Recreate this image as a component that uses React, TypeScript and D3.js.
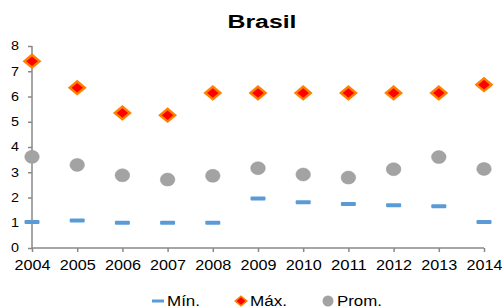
import * as d3 from 'd3';
import React, { useRef, useEffect } from 'react';

const years = ['2004', '2005', '2006', '2007', '2008', '2009', '2010', '2011', '2012', '2013', '2014'];
const minValues = [1.03, 1.09, 1.0, 1.0, 1.0, 1.96, 1.81, 1.74, 1.69, 1.65, 1.03];
const maxValues = [7.4, 6.35, 5.35, 5.26, 6.14, 6.14, 6.14, 6.14, 6.14, 6.14, 6.47];
const avgValues = [3.61, 3.29, 2.88, 2.71, 2.86, 3.16, 2.91, 2.79, 3.12, 3.6, 3.13];
const yTicks = [0, 1, 2, 3, 4, 5, 6, 7, 8];
const legendLabels = ['Mín.', 'Máx.', 'Prom.'];

const App: React.FC = () => {
    const ref = useRef<SVGSVGElement | null>(null);

    useEffect(() => {
        const width = 502;
        const height = 307;
        const margin = { top: 46, right: 18, bottom: 59, left: 32 };
        const font = 'Liberation Sans, Arial, sans-serif';
        const axisColor = '#888888';

        const svg = d3.select(ref.current).attr('width', width).attr('height', height);
        svg.selectAll('*').remove();

        const x = d3
            .scalePoint<string>()
            .domain(years)
            .range([margin.left, width - margin.right]);
        const y = d3
            .scaleLinear()
            .domain([0, 8])
            .range([height - margin.bottom, margin.top]);

        // Title (the reference is stretched horizontally, so text gets a fixed length)
        svg.append('text')
            .attr('x', 262)
            .attr('y', 28)
            .attr('text-anchor', 'middle')
            .attr('textLength', 69)
            .attr('lengthAdjust', 'spacingAndGlyphs')
            .style('font-family', font)
            .style('font-size', '18px')
            .style('font-weight', 'bold')
            .text('Brasil');

        // Y axis
        const yAxis = svg
            .append('g')
            .attr('transform', `translate(${margin.left},0)`)
            .call(d3.axisLeft(y).tickValues(yTicks).tickSize(4).tickPadding(13));
        // X axis
        const xAxis = svg
            .append('g')
            .attr('transform', `translate(0,${y(0)})`)
            .call(d3.axisBottom(x).tickSize(4).tickPadding(8));

        [yAxis, xAxis].forEach((ax) => {
            ax.select('.domain').attr('stroke', axisColor).attr('stroke-width', 1.5);
            ax.selectAll('.tick line').attr('stroke', axisColor).attr('stroke-width', 1.5);
            ax.selectAll('.tick text')
                .attr('fill', '#000')
                .style('font-family', font)
                .attr('lengthAdjust', 'spacingAndGlyphs');
        });
        yAxis.select('.domain').attr('d', `M0,${y(0)}V${y(8)}`);
        xAxis.select('.domain').attr('d', `M${margin.left},0H${width - margin.right}`);
        xAxis.selectAll('.tick text').style('font-size', '14px').attr('textLength', 36);
        yAxis.selectAll('.tick text')
            .style('font-size', '12px')
            .attr('textLength', 8)
            .attr('text-anchor', 'middle');

        // Prom. circles (slightly wider than tall, like the reference)
        svg.append('g')
            .selectAll('ellipse')
            .data(avgValues)
            .join('ellipse')
            .attr('cx', (_, i) => x(years[i])!)
            .attr('cy', (d) => y(d))
            .attr('rx', 7.3)
            .attr('ry', 6.5)
            .attr('fill', '#a3a3a3')
            .attr('stroke', '#999')
            .attr('stroke-width', 0.5);

        // Mín. dashes
        svg.append('g')
            .selectAll('rect')
            .data(minValues)
            .join('rect')
            .attr('x', (_, i) => x(years[i])! - 7.5)
            .attr('y', (d) => y(d) - 2)
            .attr('width', 15)
            .attr('height', 4)
            .attr('rx', 1)
            .attr('fill', '#5b9bd5');

        // Máx. diamonds
        const diamond = d3.symbol().type(d3.symbolSquare).size(80);
        svg.append('g')
            .selectAll('path')
            .data(maxValues)
            .join('path')
            .attr('d', diamond)
            .attr(
                'transform',
                (d, i) => `translate(${x(years[i])},${y(d)}) scale(1.2,1) rotate(45)`
            )
            .attr('fill', '#ff0000')
            .attr('stroke', '#ff8000')
            .attr('stroke-width', 2.2);

        // Legend
        const legendY = 301;
        const legend = svg.append('g');
        legend.append('rect')
            .attr('x', 152)
            .attr('y', legendY - 1.5)
            .attr('width', 12)
            .attr('height', 3)
            .attr('fill', '#5b9bd5');
        legend.append('path')
            .attr('d', d3.symbol().type(d3.symbolSquare).size(45))
            .attr('transform', `translate(241,${legendY}) scale(1.2,1) rotate(45)`)
            .attr('fill', '#ff0000')
            .attr('stroke', '#ff8000')
            .attr('stroke-width', 1.5);
        legend.append('circle')
            .attr('cx', 328)
            .attr('cy', legendY)
            .attr('r', 5.5)
            .attr('fill', '#a3a3a3');
        const legendX = [167, 250, 337];
        const legendW = [33, 37, 45];
        legendLabels.forEach((label, i) => {
            legend.append('text')
                .attr('x', legendX[i])
                .attr('y', legendY + 4.5)
                .attr('textLength', legendW[i])
                .attr('lengthAdjust', 'spacingAndGlyphs')
                .style('font-family', font)
                .style('font-size', '14px')
                .text(label);
        });
    }, []);

    return (
        <div
            style={{
                position: 'fixed',
                left: 0,
                top: 0,
                width: 502,
                height: 307,
                overflow: 'hidden',
                background: '#fff',
            }}
        >
            <svg ref={ref} style={{ display: 'block' }}></svg>
        </div>
    );
};

export default App;
